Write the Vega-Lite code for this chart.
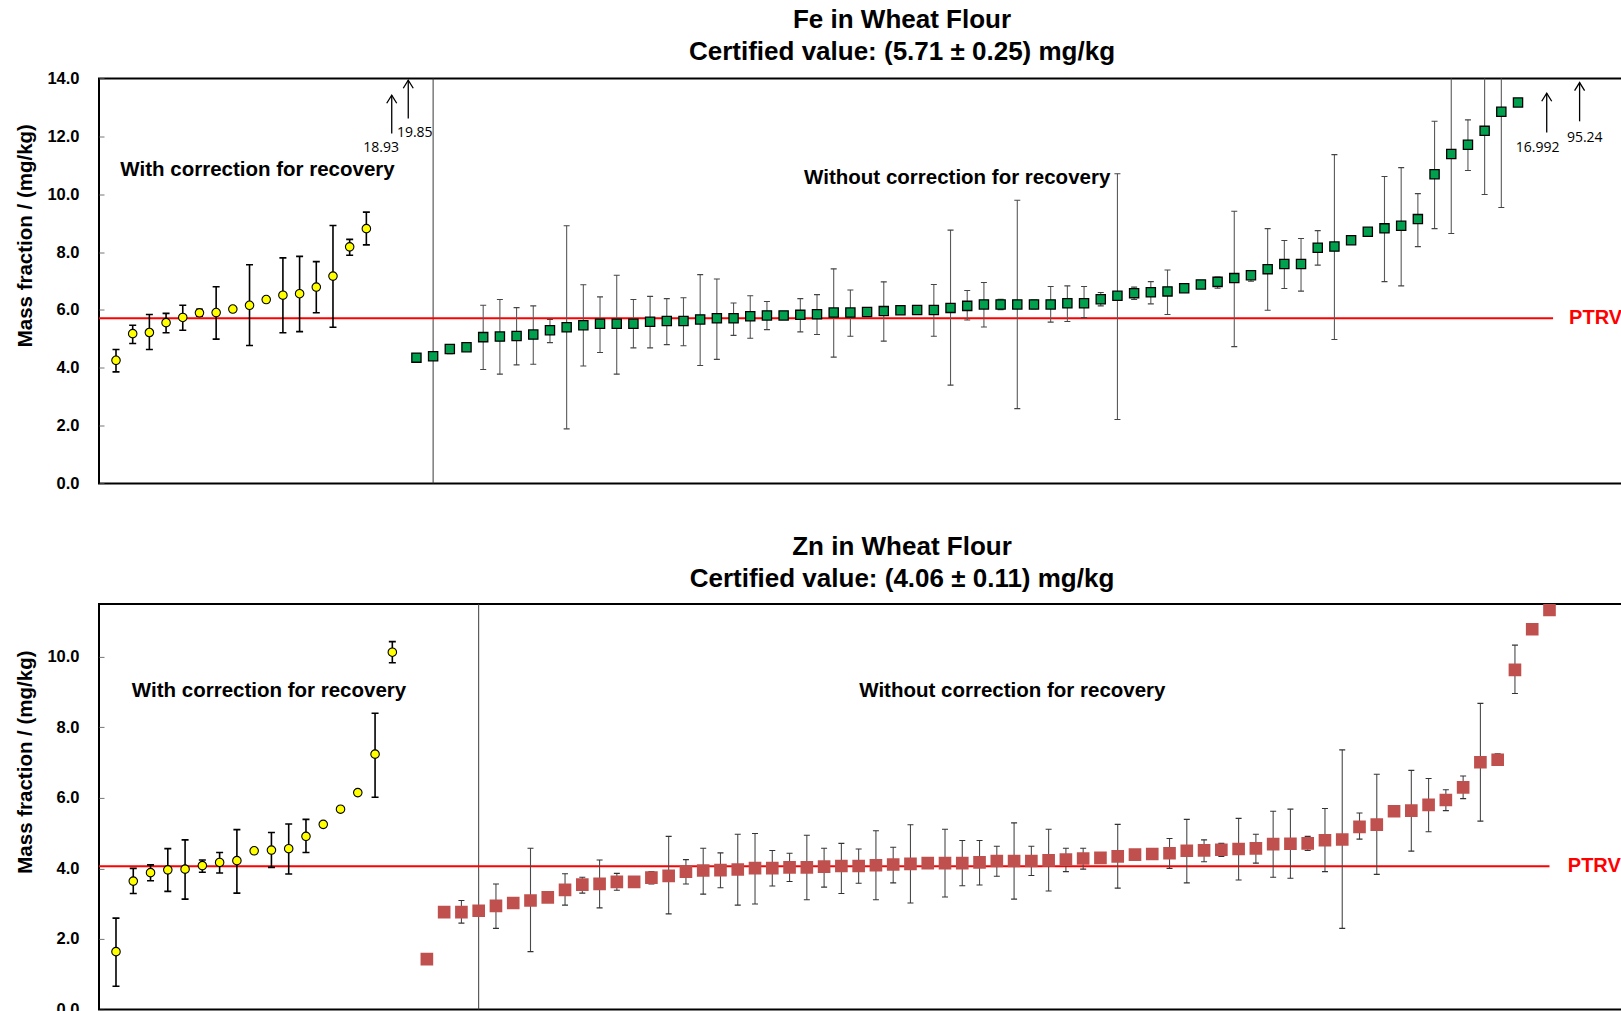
{
  "$schema": "https://vega.github.io/schema/vega-lite/v6.json",
  "padding": {"left": 14, "top": 5.5, "right": -4, "bottom": -6},
  "background": "white",
  "spacing": 38.4,
  "config": {
    "view": {"stroke": "#000", "strokeWidth": 2},
    "font": "Liberation Sans",
    "title": {"font": "Liberation Sans", "fontSize": 26, "fontWeight": "bold", "color": "#000", "lineHeight": 32.6, "anchor": "middle"},
    "axis": {
      "grid": false, "domain": false,
      "tickSize": -5, "tickColor": "#777", "tickWidth": 1,
      "labelPadding": 25, "labelFont": "Liberation Sans", "labelFontWeight": "bold", "labelFontSize": 16.5, "labelColor": "#000",
      "titleFont": "Liberation Sans", "titleFontWeight": "bold", "titleFontSize": 20.5, "titleColor": "#000", "titlePadding": 11.8
    }
  },
  "datasets": {
    "fe": [
      {"s":0,"v":4.26,"lo":3.86,"hi":4.63,"g":"c"},
      {"s":1,"v":5.18,"lo":4.84,"hi":5.47,"g":"c"},
      {"s":2,"v":5.22,"lo":4.63,"hi":5.84,"g":"c"},
      {"s":3,"v":5.56,"lo":5.21,"hi":5.88,"g":"c"},
      {"s":4,"v":5.74,"lo":5.30,"hi":6.16,"g":"c"},
      {"s":5,"v":5.90,"lo":5.78,"hi":6.02,"g":"c"},
      {"s":6,"v":5.91,"lo":4.99,"hi":6.80,"g":"c"},
      {"s":7,"v":6.03,"g":"c"},
      {"s":8,"v":6.16,"lo":4.77,"hi":7.56,"g":"c"},
      {"s":9,"v":6.36,"g":"c"},
      {"s":10,"v":6.51,"lo":5.21,"hi":7.80,"g":"c"},
      {"s":11,"v":6.56,"lo":5.25,"hi":7.85,"g":"c"},
      {"s":12,"v":6.79,"lo":5.90,"hi":7.67,"g":"c"},
      {"s":13,"v":7.17,"lo":5.40,"hi":8.92,"g":"c"},
      {"s":14,"v":8.18,"lo":7.89,"hi":8.44,"g":"c"},
      {"s":15,"v":8.81,"lo":8.25,"hi":9.38,"g":"c"},
      {"s":18,"v":4.35,"g":"u"},
      {"s":19,"v":4.40,"g":"u"},
      {"s":20,"v":4.65,"lo":4.49,"hi":4.80,"g":"u"},
      {"s":21,"v":4.71,"g":"u"},
      {"s":22,"v":5.06,"lo":3.94,"hi":6.16,"g":"u"},
      {"s":23,"v":5.08,"lo":3.78,"hi":6.36,"g":"u"},
      {"s":24,"v":5.10,"lo":4.10,"hi":6.08,"g":"u"},
      {"s":25,"v":5.15,"lo":4.12,"hi":6.14,"g":"u"},
      {"s":26,"v":5.30,"lo":4.87,"hi":5.67,"g":"u"},
      {"s":27,"v":5.40,"lo":1.89,"hi":8.91,"g":"u"},
      {"s":28,"v":5.47,"lo":4.06,"hi":6.87,"g":"u"},
      {"s":29,"v":5.52,"lo":4.53,"hi":6.45,"g":"u"},
      {"s":30,"v":5.52,"lo":3.78,"hi":7.20,"g":"u"},
      {"s":31,"v":5.52,"lo":4.69,"hi":6.36,"g":"u"},
      {"s":32,"v":5.59,"lo":4.69,"hi":6.47,"g":"u"},
      {"s":33,"v":5.62,"lo":4.80,"hi":6.39,"g":"u"},
      {"s":34,"v":5.62,"lo":4.76,"hi":6.42,"g":"u"},
      {"s":35,"v":5.67,"lo":4.08,"hi":7.22,"g":"u"},
      {"s":36,"v":5.71,"lo":4.29,"hi":7.07,"g":"u"},
      {"s":37,"v":5.71,"lo":5.12,"hi":6.24,"g":"u"},
      {"s":38,"v":5.78,"lo":5.02,"hi":6.49,"g":"u"},
      {"s":39,"v":5.81,"lo":5.32,"hi":6.29,"g":"u"},
      {"s":40,"v":5.81,"g":"u"},
      {"s":41,"v":5.83,"lo":5.24,"hi":6.39,"g":"u"},
      {"s":42,"v":5.85,"lo":5.15,"hi":6.53,"g":"u"},
      {"s":43,"v":5.91,"lo":4.37,"hi":7.42,"g":"u"},
      {"s":44,"v":5.91,"lo":5.09,"hi":6.69,"g":"u"},
      {"s":45,"v":5.93,"g":"u"},
      {"s":46,"v":5.96,"lo":4.92,"hi":6.97,"g":"u"},
      {"s":47,"v":5.99,"g":"u"},
      {"s":48,"v":6.00,"g":"u"},
      {"s":49,"v":6.00,"lo":5.09,"hi":6.88,"g":"u"},
      {"s":50,"v":6.07,"lo":3.40,"hi":8.76,"g":"u"},
      {"s":51,"v":6.14,"lo":5.65,"hi":6.67,"g":"u"},
      {"s":52,"v":6.19,"lo":5.41,"hi":6.95,"g":"u"},
      {"s":53,"v":6.19,"lo":6.01,"hi":6.37,"g":"u"},
      {"s":54,"v":6.19,"lo":2.59,"hi":9.79,"g":"u"},
      {"s":55,"v":6.19,"lo":6.04,"hi":6.34,"g":"u"},
      {"s":56,"v":6.19,"lo":5.58,"hi":6.81,"g":"u"},
      {"s":57,"v":6.23,"lo":5.60,"hi":6.83,"g":"u"},
      {"s":58,"v":6.23,"lo":5.74,"hi":6.81,"g":"u"},
      {"s":59,"v":6.37,"lo":6.14,"hi":6.60,"g":"u"},
      {"s":60,"v":6.49,"lo":2.21,"hi":10.71,"g":"u"},
      {"s":61,"v":6.58,"lo":6.36,"hi":6.79,"g":"u"},
      {"s":62,"v":6.61,"lo":6.21,"hi":6.98,"g":"u"},
      {"s":63,"v":6.64,"lo":5.84,"hi":7.38,"g":"u"},
      {"s":64,"v":6.75,"g":"u"},
      {"s":65,"v":6.88,"g":"u"},
      {"s":66,"v":6.97,"lo":6.75,"hi":7.14,"g":"u"},
      {"s":67,"v":7.10,"lo":4.73,"hi":9.41,"g":"u"},
      {"s":68,"v":7.20,"lo":6.99,"hi":7.34,"g":"u"},
      {"s":69,"v":7.41,"lo":5.99,"hi":8.81,"g":"u"},
      {"s":70,"v":7.59,"lo":6.74,"hi":8.40,"g":"u"},
      {"s":71,"v":7.59,"lo":6.65,"hi":8.47,"g":"u"},
      {"s":72,"v":8.15,"lo":7.55,"hi":8.74,"g":"u"},
      {"s":73,"v":8.19,"lo":4.98,"hi":11.37,"g":"u"},
      {"s":74,"v":8.41,"g":"u"},
      {"s":75,"v":8.70,"g":"u"},
      {"s":76,"v":8.82,"lo":6.98,"hi":10.61,"g":"u"},
      {"s":77,"v":8.91,"lo":6.83,"hi":10.92,"g":"u"},
      {"s":78,"v":9.14,"lo":8.19,"hi":10.02,"g":"u"},
      {"s":79,"v":10.69,"lo":8.81,"hi":12.52,"g":"u"},
      {"s":80,"v":11.39,"lo":8.64,"hi":14.14,"g":"u"},
      {"s":81,"v":11.71,"lo":10.82,"hi":12.57,"g":"u"},
      {"s":82,"v":12.19,"lo":9.99,"hi":14.39,"g":"u"},
      {"s":83,"v":12.85,"lo":9.54,"hi":16.16,"g":"u"},
      {"s":84,"v":13.17,"g":"u"}
    ],
    "zn": [
      {"s":0,"v":1.64,"lo":0.66,"hi":2.59,"g":"c"},
      {"s":1,"v":3.64,"lo":3.29,"hi":4.00,"g":"c"},
      {"s":2,"v":3.88,"lo":3.65,"hi":4.10,"g":"c"},
      {"s":3,"v":3.96,"lo":3.35,"hi":4.56,"g":"c"},
      {"s":4,"v":3.98,"lo":3.13,"hi":4.81,"g":"c"},
      {"s":5,"v":4.08,"lo":3.89,"hi":4.24,"g":"c"},
      {"s":6,"v":4.17,"lo":3.87,"hi":4.45,"g":"c"},
      {"s":7,"v":4.22,"lo":3.30,"hi":5.10,"g":"c"},
      {"s":8,"v":4.50,"g":"c"},
      {"s":9,"v":4.52,"lo":4.03,"hi":5.02,"g":"c"},
      {"s":10,"v":4.56,"lo":3.84,"hi":5.26,"g":"c"},
      {"s":11,"v":4.91,"lo":4.45,"hi":5.39,"g":"c"},
      {"s":12,"v":5.25,"g":"c"},
      {"s":13,"v":5.68,"g":"c"},
      {"s":14,"v":6.15,"g":"c"},
      {"s":15,"v":7.24,"lo":6.02,"hi":8.40,"g":"c"},
      {"s":16,"v":10.13,"lo":9.83,"hi":10.43,"g":"c"},
      {"s":18,"v":1.43,"g":"u"},
      {"s":19,"v":2.76,"g":"u"},
      {"s":20,"v":2.76,"lo":2.45,"hi":3.09,"g":"u"},
      {"s":21,"v":2.80,"g":"u"},
      {"s":22,"v":2.94,"lo":2.30,"hi":3.56,"g":"u"},
      {"s":23,"v":3.02,"g":"u"},
      {"s":24,"v":3.09,"lo":1.64,"hi":4.57,"g":"u"},
      {"s":25,"v":3.18,"g":"u"},
      {"s":26,"v":3.39,"lo":2.96,"hi":3.85,"g":"u"},
      {"s":27,"v":3.54,"lo":3.30,"hi":3.75,"g":"u"},
      {"s":28,"v":3.56,"lo":2.88,"hi":4.24,"g":"u"},
      {"s":29,"v":3.62,"lo":3.38,"hi":3.86,"g":"u"},
      {"s":30,"v":3.62,"g":"u"},
      {"s":31,"v":3.74,"lo":3.56,"hi":3.91,"g":"u"},
      {"s":32,"v":3.79,"lo":2.71,"hi":4.91,"g":"u"},
      {"s":33,"v":3.91,"lo":3.56,"hi":4.25,"g":"u"},
      {"s":34,"v":3.94,"lo":3.27,"hi":4.57,"g":"u"},
      {"s":35,"v":3.95,"lo":3.45,"hi":4.44,"g":"u"},
      {"s":36,"v":3.97,"lo":2.96,"hi":4.97,"g":"u"},
      {"s":37,"v":4.01,"lo":2.99,"hi":4.99,"g":"u"},
      {"s":38,"v":4.01,"lo":3.50,"hi":4.51,"g":"u"},
      {"s":39,"v":4.03,"lo":3.63,"hi":4.43,"g":"u"},
      {"s":40,"v":4.03,"lo":3.11,"hi":4.94,"g":"u"},
      {"s":41,"v":4.05,"lo":3.47,"hi":4.57,"g":"u"},
      {"s":42,"v":4.07,"lo":3.29,"hi":4.71,"g":"u"},
      {"s":43,"v":4.07,"lo":3.58,"hi":4.55,"g":"u"},
      {"s":44,"v":4.09,"lo":3.11,"hi":5.07,"g":"u"},
      {"s":45,"v":4.11,"lo":3.59,"hi":4.60,"g":"u"},
      {"s":46,"v":4.13,"lo":3.02,"hi":5.24,"g":"u"},
      {"s":47,"v":4.15,"g":"u"},
      {"s":48,"v":4.15,"lo":3.19,"hi":5.11,"g":"u"},
      {"s":49,"v":4.15,"lo":3.51,"hi":4.79,"g":"u"},
      {"s":50,"v":4.17,"lo":3.53,"hi":4.79,"g":"u"},
      {"s":51,"v":4.21,"lo":3.78,"hi":4.63,"g":"u"},
      {"s":52,"v":4.21,"lo":3.13,"hi":5.29,"g":"u"},
      {"s":53,"v":4.21,"lo":3.80,"hi":4.63,"g":"u"},
      {"s":54,"v":4.23,"lo":3.36,"hi":5.11,"g":"u"},
      {"s":55,"v":4.25,"lo":3.91,"hi":4.57,"g":"u"},
      {"s":56,"v":4.28,"lo":3.98,"hi":4.57,"g":"u"},
      {"s":57,"v":4.30,"g":"u"},
      {"s":58,"v":4.34,"lo":3.44,"hi":5.25,"g":"u"},
      {"s":59,"v":4.39,"g":"u"},
      {"s":60,"v":4.41,"lo":4.34,"hi":4.47,"g":"u"},
      {"s":61,"v":4.43,"lo":4.00,"hi":4.85,"g":"u"},
      {"s":62,"v":4.50,"lo":3.59,"hi":5.39,"g":"u"},
      {"s":63,"v":4.51,"lo":4.19,"hi":4.81,"g":"u"},
      {"s":64,"v":4.53,"lo":4.34,"hi":4.71,"g":"u"},
      {"s":65,"v":4.55,"lo":3.67,"hi":5.42,"g":"u"},
      {"s":66,"v":4.57,"lo":4.15,"hi":4.97,"g":"u"},
      {"s":67,"v":4.69,"lo":3.75,"hi":5.62,"g":"u"},
      {"s":68,"v":4.70,"lo":3.72,"hi":5.68,"g":"u"},
      {"s":69,"v":4.71,"lo":4.51,"hi":4.91,"g":"u"},
      {"s":70,"v":4.80,"lo":3.91,"hi":5.70,"g":"u"},
      {"s":71,"v":4.82,"lo":2.30,"hi":7.36,"g":"u"},
      {"s":72,"v":5.18,"lo":4.83,"hi":5.57,"g":"u"},
      {"s":73,"v":5.24,"lo":3.83,"hi":6.67,"g":"u"},
      {"s":74,"v":5.62,"g":"u"},
      {"s":75,"v":5.64,"lo":4.49,"hi":6.78,"g":"u"},
      {"s":76,"v":5.80,"lo":5.04,"hi":6.55,"g":"u"},
      {"s":77,"v":5.94,"lo":5.64,"hi":6.23,"g":"u"},
      {"s":78,"v":6.30,"lo":5.98,"hi":6.62,"g":"u"},
      {"s":79,"v":7.01,"lo":5.34,"hi":8.68,"g":"u"},
      {"s":80,"v":7.08,"lo":6.92,"hi":7.25,"g":"u"},
      {"s":81,"v":9.63,"lo":8.96,"hi":10.33,"g":"u"},
      {"s":82,"v":10.78,"g":"u"},
      {"s":83,"v":11.33,"g":"u"}
    ],
    "ann": [
      {"p":"Fe","t":"sep","s":19},
      {"p":"Fe","t":"ptrv","s":-1.0186,"s2":86.1,"v":5.71},
      {"p":"Fe","t":"ptrvlab","s":87.06,"v":5.71,"label":"PTRV"},
      {"p":"Fe","t":"txt","s":8.48,"v":10.83,"label":"With correction for recovery"},
      {"p":"Fe","t":"txt","s":50.4,"v":10.55,"label":"Without correction for recovery"},
      {"p":"Fe","t":"arrow","s":16.52,"v":12.10,"v2":13.42},
      {"p":"Fe","t":"arrow","s":17.51,"v":12.62,"v2":13.94},
      {"p":"Fe","t":"arrow","s":85.72,"v":12.13,"v2":13.49},
      {"p":"Fe","t":"arrow","s":87.69,"v":12.52,"v2":13.86},
      {"p":"Fe","t":"alab","s":15.88,"v":11.59,"label":"18.93"},
      {"p":"Fe","t":"alab","s":17.9,"v":12.11,"label":"19.85"},
      {"p":"Fe","t":"alab","s":85.18,"v":11.60,"label":"16.992"},
      {"p":"Fe","t":"alab","s":88.0,"v":11.95,"label":"95.24"},
      {"p":"Zn","t":"sep","s":21},
      {"p":"Zn","t":"ptrv","s":-0.984,"s2":83.0,"v":4.06},
      {"p":"Zn","t":"ptrvlab","s":84.06,"v":4.06,"label":"PTRV"},
      {"p":"Zn","t":"txt","s":8.86,"v":9.04,"label":"With correction for recovery"},
      {"p":"Zn","t":"txt","s":51.9,"v":9.02,"label":"Without correction for recovery"}
    ]
  },
  "vconcat": [
    {
      "width": 1527, "height": 405,
      "title": {"text": ["Fe in Wheat Flour", "Certified value: (5.71 ± 0.25) mg/kg"], "dx": 39.5, "offset": 5.2},
      "encoding": {
        "x": {"field": "s", "type": "quantitative", "scale": {"domain": [-1.0186, 90.47], "nice": false, "zero": false}, "axis": null}
      },
      "layer": [
        {"data": {"name": "ann"}, "transform": [{"filter": "datum.p == 'Fe' && datum.t == 'sep'"}],
         "mark": {"type": "rule", "color": "#3a3a3a", "strokeWidth": 1}, "encoding": {}},
        {"data": {"name": "ann"}, "transform": [{"filter": "datum.p == 'Fe' && datum.t == 'ptrv'"}],
         "mark": {"type": "rule", "color": "#ff0000", "strokeWidth": 2},
         "encoding": {"x2": {"field": "s2"}, "y": {"field": "v", "type": "quantitative", "title": "Mass fraction / (mg/kg)", "scale": {"domain": [0, 14], "nice": false, "zero": false}}}},
        {"data": {"name": "fe"}, "transform": [{"filter": "isValid(datum.lo) && datum.g == 'c'"}],
         "mark": {"type": "rule", "color": "#000", "strokeWidth": 1.6, "clip": true},
         "encoding": {"y": {"field": "lo", "type": "quantitative", "title": "Mass fraction / (mg/kg)", "scale": {"domain": [0, 14], "nice": false, "zero": false}}, "y2": {"field": "hi"}}},
        {"data": {"name": "fe"}, "transform": [{"filter": "isValid(datum.lo) && datum.g == 'c'"}, {"fold": ["lo", "hi"], "as": ["k", "cv"]}],
         "mark": {"type": "tick", "orient": "horizontal", "color": "#000", "size": 7, "thickness": 1.6, "clip": true, "opacity": 1},
         "encoding": {"y": {"field": "cv", "type": "quantitative", "title": "Mass fraction / (mg/kg)", "scale": {"domain": [0, 14], "nice": false, "zero": false}}}},
        {"data": {"name": "fe"}, "transform": [{"filter": "isValid(datum.lo) && datum.g == 'u'"}],
         "mark": {"type": "rule", "color": "#5a5a5a", "strokeWidth": 1.1, "clip": true},
         "encoding": {"y": {"field": "lo", "type": "quantitative", "title": "Mass fraction / (mg/kg)", "scale": {"domain": [0, 14], "nice": false, "zero": false}}, "y2": {"field": "hi"}}},
        {"data": {"name": "fe"}, "transform": [{"filter": "isValid(datum.lo) && datum.g == 'u'"}, {"fold": ["lo", "hi"], "as": ["k", "cv"]}],
         "mark": {"type": "tick", "orient": "horizontal", "color": "#444", "size": 6, "thickness": 1.1, "clip": true, "opacity": 1},
         "encoding": {"y": {"field": "cv", "type": "quantitative", "title": "Mass fraction / (mg/kg)", "scale": {"domain": [0, 14], "nice": false, "zero": false}}}},
        {"data": {"name": "fe"}, "transform": [{"filter": "datum.g == 'c'"}],
         "mark": {"type": "point", "shape": "circle", "filled": true, "color": "#ffff00", "stroke": "#000", "strokeWidth": 1.1, "size": 72, "opacity": 1, "clip": true},
         "encoding": {"y": {"field": "v", "type": "quantitative", "title": "Mass fraction / (mg/kg)", "scale": {"domain": [0, 14], "nice": false, "zero": false},
           "axis": {"values": [0, 2, 4, 6, 8, 10, 12, 14], "format": ".1f", "titleY": 156.7}}}},
        {"data": {"name": "fe"}, "transform": [{"filter": "datum.g == 'u'"}],
         "mark": {"type": "point", "shape": "square", "filled": true, "color": "#00a04e", "stroke": "#000", "strokeWidth": 1.3, "size": 85, "opacity": 1, "clip": true},
         "encoding": {"y": {"field": "v", "type": "quantitative", "title": "Mass fraction / (mg/kg)", "scale": {"domain": [0, 14], "nice": false, "zero": false}}}},
        {"data": {"name": "ann"}, "transform": [{"filter": "datum.p == 'Fe' && datum.t == 'arrow'"}],
         "mark": {"type": "rule", "color": "#000", "strokeWidth": 1.3},
         "encoding": {"y": {"field": "v", "type": "quantitative", "title": "Mass fraction / (mg/kg)", "scale": {"domain": [0, 14], "nice": false, "zero": false}}, "y2": {"field": "v2"}}},
        {"data": {"name": "ann"}, "transform": [{"filter": "datum.p == 'Fe' && datum.t == 'arrow'"}],
         "mark": {"type": "point", "shape": "M-1,1.6L0,0L1,1.6", "filled": false, "color": "#000", "strokeWidth": 1.3, "size": 100, "opacity": 1},
         "encoding": {"y": {"field": "v2", "type": "quantitative", "title": "Mass fraction / (mg/kg)", "scale": {"domain": [0, 14], "nice": false, "zero": false}}}},
        {"data": {"name": "ann"}, "transform": [{"filter": "datum.p == 'Fe' && datum.t == 'alab'"}],
         "mark": {"type": "text", "font": "Open Sans", "fontSize": 14, "color": "#000", "align": "center", "baseline": "middle"},
         "encoding": {"text": {"field": "label"}, "y": {"field": "v", "type": "quantitative", "title": "Mass fraction / (mg/kg)", "scale": {"domain": [0, 14], "nice": false, "zero": false}}}},
        {"data": {"name": "ann"}, "transform": [{"filter": "datum.p == 'Fe' && datum.t == 'txt'"}],
         "mark": {"type": "text", "font": "Liberation Sans", "fontWeight": "bold", "fontSize": 20.5, "color": "#000", "align": "center", "baseline": "middle"},
         "encoding": {"text": {"field": "label"}, "y": {"field": "v", "type": "quantitative", "title": "Mass fraction / (mg/kg)", "scale": {"domain": [0, 14], "nice": false, "zero": false}}}},
        {"data": {"name": "ann"}, "transform": [{"filter": "datum.p == 'Fe' && datum.t == 'ptrvlab'"}],
         "mark": {"type": "text", "font": "Liberation Sans", "fontWeight": "bold", "fontSize": 20, "color": "#ff0000", "align": "left", "baseline": "middle", "clip": true},
         "encoding": {"text": {"field": "label"}, "y": {"field": "v", "type": "quantitative", "title": "Mass fraction / (mg/kg)", "scale": {"domain": [0, 14], "nice": false, "zero": false}}}}
      ]
    },
    {
      "width": 1527, "height": 405.6,
      "title": {"text": ["Zn in Wheat Flour", "Certified value: (4.06 ± 0.11) mg/kg"], "dx": 39.5, "offset": 11.1},
      "encoding": {
        "x": {"field": "s", "type": "quantitative", "scale": {"domain": [-0.984, 87.43], "nice": false, "zero": false}, "axis": null}
      },
      "layer": [
        {"data": {"name": "ann"}, "transform": [{"filter": "datum.p == 'Zn' && datum.t == 'sep'"}],
         "mark": {"type": "rule", "color": "#3a3a3a", "strokeWidth": 1}, "encoding": {}},
        {"data": {"name": "ann"}, "transform": [{"filter": "datum.p == 'Zn' && datum.t == 'ptrv'"}],
         "mark": {"type": "rule", "color": "#ff0000", "strokeWidth": 2},
         "encoding": {"x2": {"field": "s2"}, "y": {"field": "v", "type": "quantitative", "title": "Mass fraction / (mg/kg)", "scale": {"domain": [0, 11.5], "nice": false, "zero": false}}}},
        {"data": {"name": "zn"}, "transform": [{"filter": "isValid(datum.lo) && datum.g == 'c'"}],
         "mark": {"type": "rule", "color": "#000", "strokeWidth": 1.6, "clip": true},
         "encoding": {"y": {"field": "lo", "type": "quantitative", "title": "Mass fraction / (mg/kg)", "scale": {"domain": [0, 11.5], "nice": false, "zero": false}}, "y2": {"field": "hi"}}},
        {"data": {"name": "zn"}, "transform": [{"filter": "isValid(datum.lo) && datum.g == 'c'"}, {"fold": ["lo", "hi"], "as": ["k", "cv"]}],
         "mark": {"type": "tick", "orient": "horizontal", "color": "#000", "size": 7, "thickness": 1.6, "clip": true, "opacity": 1},
         "encoding": {"y": {"field": "cv", "type": "quantitative", "title": "Mass fraction / (mg/kg)", "scale": {"domain": [0, 11.5], "nice": false, "zero": false}}}},
        {"data": {"name": "zn"}, "transform": [{"filter": "isValid(datum.lo) && datum.g == 'u'"}],
         "mark": {"type": "rule", "color": "#4a4a4a", "strokeWidth": 1.1, "clip": true},
         "encoding": {"y": {"field": "lo", "type": "quantitative", "title": "Mass fraction / (mg/kg)", "scale": {"domain": [0, 11.5], "nice": false, "zero": false}}, "y2": {"field": "hi"}}},
        {"data": {"name": "zn"}, "transform": [{"filter": "isValid(datum.lo) && datum.g == 'u'"}, {"fold": ["lo", "hi"], "as": ["k", "cv"]}],
         "mark": {"type": "tick", "orient": "horizontal", "color": "#333", "size": 6, "thickness": 1.1, "clip": true, "opacity": 1},
         "encoding": {"y": {"field": "cv", "type": "quantitative", "title": "Mass fraction / (mg/kg)", "scale": {"domain": [0, 11.5], "nice": false, "zero": false}}}},
        {"data": {"name": "zn"}, "transform": [{"filter": "datum.g == 'c'"}],
         "mark": {"type": "point", "shape": "circle", "filled": true, "color": "#ffff00", "stroke": "#000", "strokeWidth": 1.1, "size": 72, "opacity": 1, "clip": true},
         "encoding": {"y": {"field": "v", "type": "quantitative", "title": "Mass fraction / (mg/kg)", "scale": {"domain": [0, 11.5], "nice": false, "zero": false},
           "axis": {"values": [0, 2, 4, 6, 8, 10], "format": ".1f", "titleY": 157.7}}}},
        {"data": {"name": "zn"}, "transform": [{"filter": "datum.g == 'u'"}],
         "mark": {"type": "point", "shape": "square", "filled": true, "color": "#c0504d", "size": 160, "opacity": 1, "clip": true},
         "encoding": {"y": {"field": "v", "type": "quantitative", "title": "Mass fraction / (mg/kg)", "scale": {"domain": [0, 11.5], "nice": false, "zero": false}}}},
        {"data": {"name": "ann"}, "transform": [{"filter": "datum.p == 'Zn' && datum.t == 'txt'"}],
         "mark": {"type": "text", "font": "Liberation Sans", "fontWeight": "bold", "fontSize": 20.5, "color": "#000", "align": "center", "baseline": "middle"},
         "encoding": {"text": {"field": "label"}, "y": {"field": "v", "type": "quantitative", "title": "Mass fraction / (mg/kg)", "scale": {"domain": [0, 11.5], "nice": false, "zero": false}}}},
        {"data": {"name": "ann"}, "transform": [{"filter": "datum.p == 'Zn' && datum.t == 'ptrvlab'"}],
         "mark": {"type": "text", "font": "Liberation Sans", "fontWeight": "bold", "fontSize": 20, "color": "#ff0000", "align": "left", "baseline": "middle", "clip": true},
         "encoding": {"text": {"field": "label"}, "y": {"field": "v", "type": "quantitative", "title": "Mass fraction / (mg/kg)", "scale": {"domain": [0, 11.5], "nice": false, "zero": false}}}}
      ]
    }
  ]
}
